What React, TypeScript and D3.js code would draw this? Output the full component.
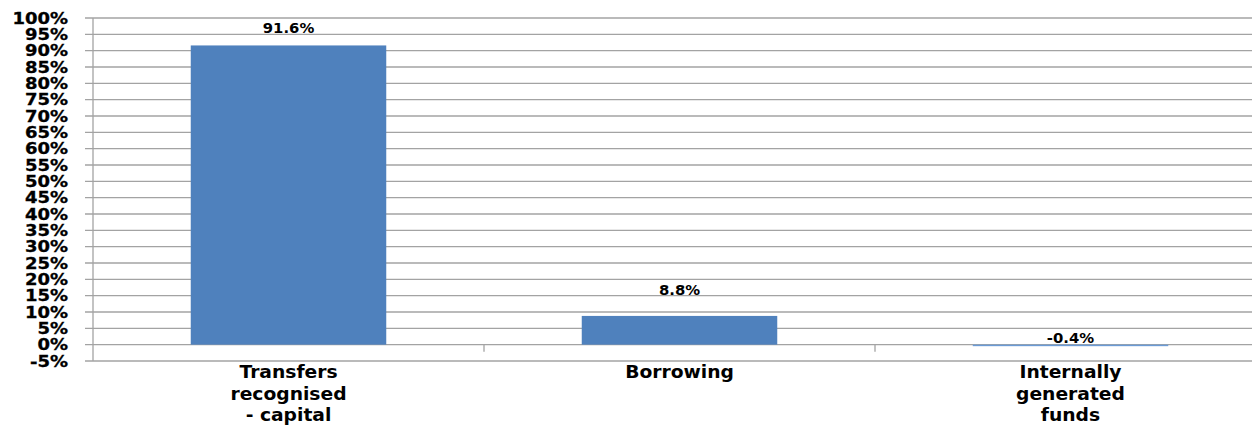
import React from "react";
import * as d3 from "d3";

const categories: string[][] = [
  ["Transfers", "recognised", "- capital"],
  ["Borrowing"],
  ["Internally", "generated", "funds"],
];
const values: number[] = [91.6, 8.8, -0.4];
const valueLabels: string[] = ["91.6%", "8.8%", "-0.4%"];
const tickValues: number[] = d3.range(-5, 101, 5);

const W = 1252;
const H = 428;
const left = 93;
const step = 391;
const top = 18;
const bottom = 361;
const labelDy = [12, 21, 2];

export default function App() {
  const keys = categories.map((c) => c.join(" "));
  const x = d3
    .scaleBand<string>()
    .domain(keys)
    .range([left, left + step * keys.length])
    .paddingInner(0.5)
    .paddingOuter(0.25);
  const y = d3.scaleLinear().domain([-5, 100]).range([bottom, top]);
  const font = "'DejaVu Sans', Verdana, sans-serif";
  const grid = "#a3a3a3";

  return (
    <svg
      width={W}
      height={H}
      style={{ position: "absolute", left: 0, top: 0, background: "#fff" }}
    >
      {tickValues.map((t) => (
        <g key={t}>
          <line x1={left - 8} x2={W} y1={y(t)} y2={y(t)} stroke={grid} strokeWidth={1.3} />
          <text
            transform={`translate(68,${y(t) + 5.5}) scale(1.2,1)`}
            textAnchor="end"
            fontFamily={font}
            fontWeight="bold"
            fontSize={15}
            fill="#000"
            stroke="#000"
            strokeWidth={0.3}
          >
            {t}%
          </text>
        </g>
      ))}
      <line x1={left} x2={left} y1={y(100)} y2={y(-5)} stroke={grid} strokeWidth={1.3} />
      {keys.slice(1).map((k) => {
        const bx = x(k)! - (x.step() * x.paddingInner()) / 2;
        return (
          <line key={k} x1={bx} x2={bx} y1={y(0)} y2={y(0) + 7} stroke={grid} strokeWidth={1.3} />
        );
      })}
      {values.map((v, i) => {
        const k = keys[i];
        const y0 = y(Math.max(v, 0));
        const y1 = y(Math.min(v, 0));
        const cx = x(k)! + x.bandwidth() / 2;
        return (
          <g key={k}>
            <rect
              x={x(k)}
              y={y0}
              width={x.bandwidth()}
              height={Math.max(y1 - y0, 1.5)}
              fill={v < 0 ? "#6b9bd6" : "#4f81bd"}
            />
            <text
              transform={`translate(${cx},${y0 - labelDy[i]}) scale(1.1,1)`}
              textAnchor="middle"
              fontFamily={font}
              fontWeight="bold"
              fontSize={13.5}
              fill="#000"
            >
              {valueLabels[i]}
            </text>
            {categories[i].map((line, j) => (
              <text
                key={j}
                transform={`translate(${cx},${378 + j * 21.5}) scale(1.1,1)`}
                textAnchor="middle"
                fontFamily={font}
                fontWeight="bold"
                fontSize={17}
                fill="#000"
              >
                {line}
              </text>
            ))}
          </g>
        );
      })}
    </svg>
  );
}
